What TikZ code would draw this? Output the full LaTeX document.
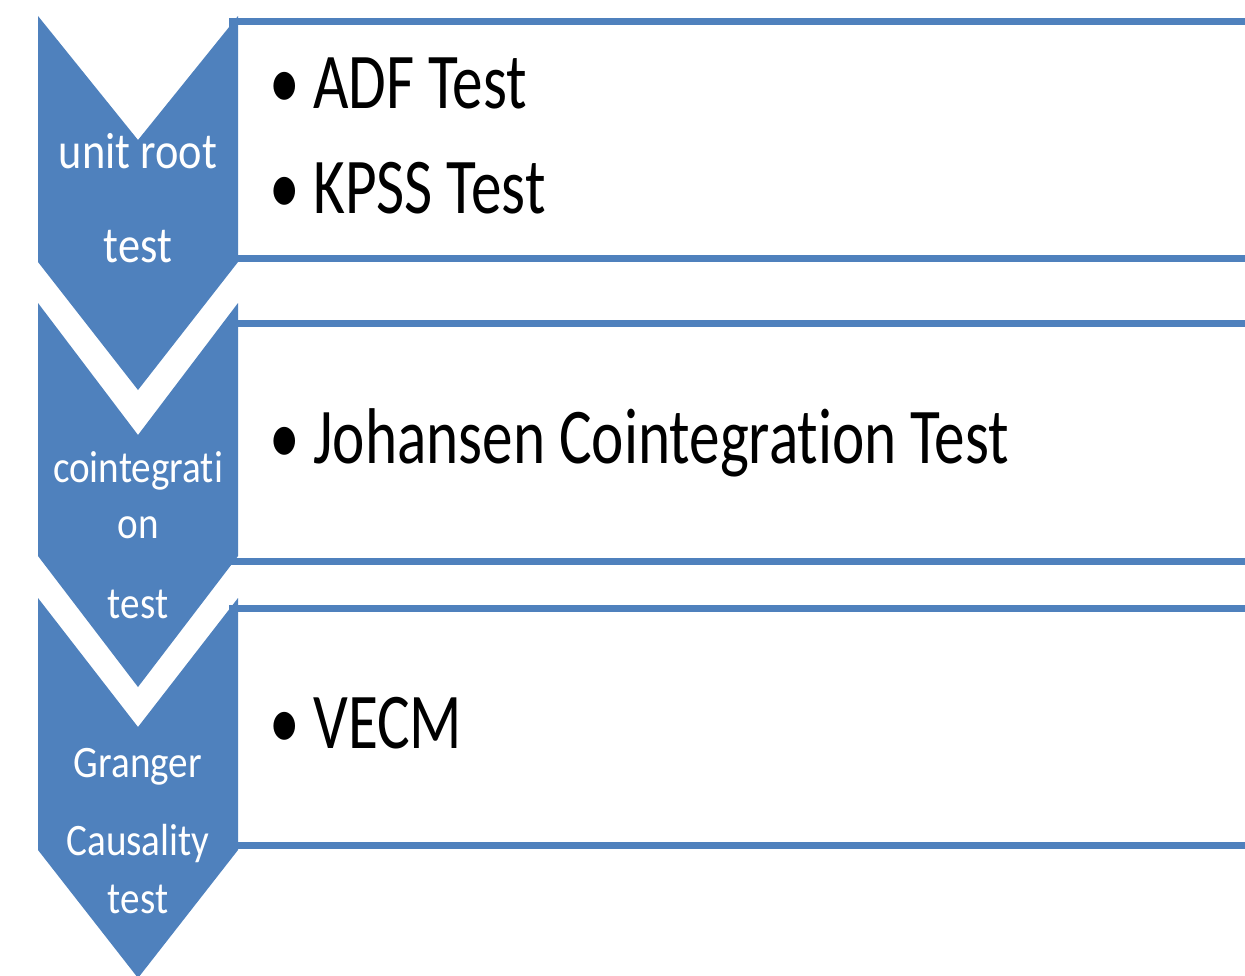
\documentclass[tikz,border=0pt]{standalone}
\usepackage{fontspec}
\setmainfont{Carlito}
\newfontfamily\bodyfont[FakeStretch=0.775,Ligatures=NoCommon]{Carlito}
\newfontfamily\labfont[FakeStretch=0.87,Ligatures=NoCommon]{Carlito}
\definecolor{accent}{HTML}{4F81BD}
\tikzset{
  chev/.style={fill=accent, draw=none},
  listbox/.style={draw=accent, line width=3.5pt, fill=white},
  item/.style={anchor=base west, inner sep=0pt, font=\bodyfont\fontsize{39.5}{40}\selectfont, text=black},
  lab/.style={anchor=base, inner sep=0pt, font=\labfont\fontsize{22.5}{23}\selectfont, text=white},
  labbig/.style={lab, font=\labfont\fontsize{25.5}{26}\selectfont}
}
\begin{document}
\begin{tikzpicture}[x=0.5pt,y=-0.5pt]
\useasboundingbox (0,0) rectangle (1245,975);
\begin{scope}
\clip (0,0) rectangle (1245,975);
% boxes
\draw[listbox] (232,21) rectangle (1260,258);
\draw[listbox] (232,323) rectangle (1260,561);
\draw[listbox] (232,608) rectangle (1260,845);
% chevrons
\fill[chev] (38,16) -- (138,140) -- (238,16) -- (238,262) -- (138,390) -- (38,262) -- cycle;
\fill[chev] (38,303) -- (138,435) -- (238,303) -- (238,556) -- (138,687) -- (38,556) -- cycle;
\fill[chev] (38,598) -- (138,727) -- (238,598) -- (238,850) -- (138,978) -- (38,850) -- cycle;
\end{scope}
% chevron labels
\node[labbig] (l1a) at (138,168) {unit root};
\node[labbig] (l1b) at (138,262) {test};
\node[lab] (l2a) at (138,482) {cointegrati};
\node[lab] (l2b) at (138,538) {on};
\node[lab] (l2c) at (138,618) {test};
\node[lab] (l3a) at (138,777) {Granger};
\node[lab] (l3b) at (138,855) {Causality};
\node[lab] (l3c) at (138,913) {test};
% items
\node[item] (i1) at (269,108) {\makebox[22pt][l]{•}ADF Test};
\node[item] (i2) at (269,213) {\makebox[22pt][l]{•}KPSS Test};
\node[item] (i3) at (269,463) {\makebox[22pt][l]{•}Johansen Cointegration Test};
\node[item] (i4) at (269,748) {\makebox[22pt][l]{•}VECM};
\end{tikzpicture}
\end{document}
